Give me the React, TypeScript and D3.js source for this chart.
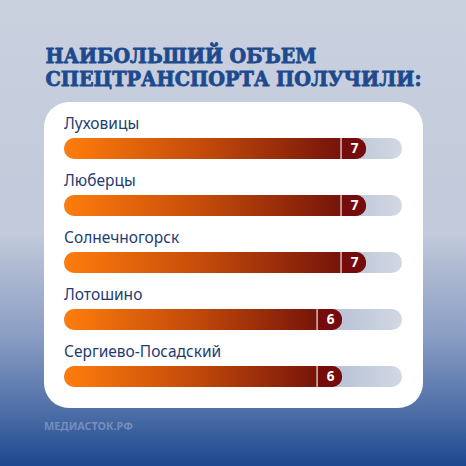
import React from "react";
import * as d3 from "d3";

const titleLines = ["НАИБОЛЬШИЙ ОБЪЕМ", "СПЕЦТРАНСПОРТА ПОЛУЧИЛИ:"];
const categories = ["Луховицы", "Люберцы", "Солнечногорск", "Лотошино", "Сергиево-Посадский"];
const values = [7, 7, 7, 6, 6];
const footer = "МЕДИАСТОК.РФ";

const W = 466;
const H = 466;

export default function App() {
  const x = d3.scaleLinear().domain([-5.6, 8.5]).range([64, 402]);
  const y = d3.scaleBand<string>().domain(categories).range([124, 409]).paddingInner(0).paddingOuter(0);
  const barH = 21;
  const badgeW = 25;

  return (
    <svg width={W} height={H} style={{ position: "absolute", left: 0, top: 0, display: "block" }}>
      <defs>
        <linearGradient id="bg" x1="0" y1="0" x2="0" y2="1">
          <stop offset="0" stopColor="#c9d0de" />
          <stop offset="0.5" stopColor="#c2cadb" />
          <stop offset="0.72" stopColor="#8a9dc4" />
          <stop offset="0.87" stopColor="#5372aa" />
          <stop offset="1" stopColor="#1c4890" />
        </linearGradient>
        <linearGradient id="barGrad" x1="0" y1="0" x2="1" y2="0">
          <stop offset="0" stopColor="#ff7d0c" />
          <stop offset="0.45" stopColor="#c54c0a" />
          <stop offset="1" stopColor="#680a0a" />
        </linearGradient>
        <linearGradient id="trackGrad2" x1="0" y1="0" x2="1" y2="0">
          <stop offset="0.7" stopColor="#aab7d0" />
          <stop offset="1" stopColor="#d2d8e3" />
        </linearGradient>
        {categories.map((c, i) => (
          <clipPath id={`clip${i}`} key={c}>
            <rect x={x.range()[0]} y={(y(c) as number) + 14} width={x(values[i]) - x.range()[0]} height={barH} rx={barH / 2} />
          </clipPath>
        ))}
      </defs>
      <rect x={0} y={0} width={W} height={H} fill="url(#bg)" />
      {titleLines.map((t, i) => (
        <text
          key={t}
          x={45.5}
          y={63 + i * 23}
          fontFamily="'DejaVu Serif', serif"
          fontWeight="bold"
          fontSize={19.5}
          fill="#1d4a8e"
          stroke="#1d4a8e"
          strokeWidth={0.8}
          strokeLinejoin="round"
          textLength={i === 0 ? 271 : 376}
          lengthAdjust="spacingAndGlyphs"
        >
          {t}
        </text>
      ))}
      <rect x={44} y={102} width={379} height={306} rx={25} fill="#ffffff" />
      {categories.map((c, i) => {
        const top = (y(c) as number) + 14;
        const x0 = x.range()[0];
        const x1 = x.range()[1];
        const xe = x(values[i]);
        return (
          <g key={c}>
            <text x={64} y={top - 9} fontFamily="'Noto Sans', sans-serif" fontSize={15.5} fill="#1f3c72">
              {c}
            </text>
            <rect x={x0} y={top} width={x1 - x0} height={barH} rx={barH / 2} fill="url(#trackGrad2)" />
            <rect x={x0} y={top} width={xe - x0} height={barH} rx={barH / 2} fill="url(#barGrad)" />
            <g clipPath={`url(#clip${i})`}>
              <rect x={xe - badgeW} y={top} width={badgeW} height={barH} fill="#760b0b" />
              <line x1={xe - badgeW} x2={xe - badgeW} y1={top} y2={top + barH} stroke="#f3e6e6" strokeWidth={1.2} />
            </g>
            <text
              x={xe - badgeW / 2 + 1}
              y={top + barH / 2 + 4.8}
              textAnchor="middle"
              fontFamily="'Noto Sans', sans-serif"
              fontWeight="bold"
              fontSize={13.5}
              fill="#ffffff"
            >
              {values[i]}
            </text>
          </g>
        );
      })}
      <text
        x={44}
        y={430}
        fontFamily="'Noto Sans', sans-serif"
        fontWeight="bold"
        fontSize={11}
        fill="#ffffff"
        fillOpacity={0.28}
        textLength={89}
        lengthAdjust="spacingAndGlyphs"
      >
        {footer}
      </text>
    </svg>
  );
}
